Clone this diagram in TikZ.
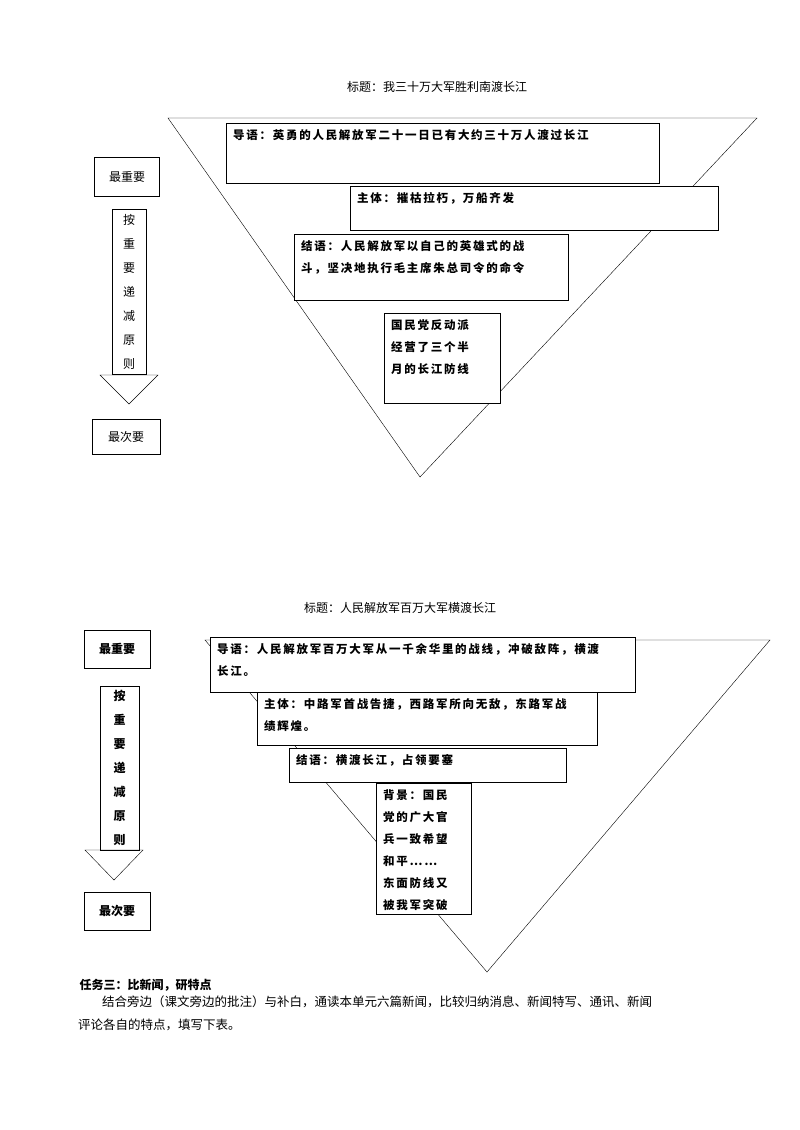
\documentclass[tikz,border=0pt]{standalone}
\usepackage{fontspec}
\newfontfamily\cjk{Noto Sans CJK SC}
\newfontfamily\cjkw[LetterSpace=15]{Noto Sans CJK SC}
\usetikzlibrary{positioning}
\newcommand{\boxtext}[3]{\parbox[t][#2][t]{#1}{#3}}
\tikzset{
  txtbox/.style={draw, fill=white, anchor=north west, align=left, inner xsep=7pt, inner ysep=6pt, font=\cjkw\fontsize{11.5}{22}\selectfont\bfseries},
  sidebox/.style={draw, fill=white, font=\cjk\fontsize{12}{14}\selectfont, inner sep=4pt},
  vtext/.style={draw, align=center, font=\cjk\fontsize{12}{24}\selectfont, inner sep=3pt}
}
\begin{document}
\begin{tikzpicture}[x=1pt,y=-1pt]
\useasboundingbox (0,0) rectangle (800,1130);
% upper chart
\node[font=\cjk\fontsize{12}{14}\selectfont] (titleA) at (437,87) {标题：我三十万大军胜利南渡长江};
\draw (168,118) -- (757,118) -- (420,477) -- cycle;
\node[txtbox] (leadA) at (226,123) {\boxtext{419pt}{48pt}{导语：英勇的人民解放军二十一日已有大约三十万人渡过长江}};
\node[txtbox] (bodyA) at (350,186) {\boxtext{354pt}{32pt}{主体：摧枯拉朽，万船齐发}};
\node[txtbox] (endA) at (294,234) {\boxtext{260pt}{54pt}{结语：人民解放军以自己的英雄式的战\\斗，坚决地执行毛主席朱总司令的命令}};
\node[txtbox] (bgA) at (384,313) {\boxtext{102pt}{78pt}{国民党反动派\\经营了三个半\\月的长江防线}};
\node[sidebox, minimum width=65, minimum height=39] (topA) at (127,177) {最重要};
\node[vtext, minimum width=34, minimum height=165] (arrA) at (129,292) {按\\重\\要\\递\\减\\原\\则};
\draw (100,375) -- (158,375) -- (129,404) -- cycle;
\node[sidebox, minimum width=68, minimum height=35] (lowA) at (126,437) {最次要};
% lower chart
\node[font=\cjk\fontsize{12}{14}\selectfont] (titleB) at (400,608) {标题：人民解放军百万大军横渡长江};
\draw (205,640) -- (770,640) -- (487,972) -- cycle;
\node[txtbox] (leadB) at (210,637) {\boxtext{411pt}{43pt}{导语：人民解放军百万大军从一千余华里的战线，冲破敌阵，横渡\\长江。}};
\node[txtbox] (bodyB) at (257,692) {\boxtext{326pt}{41pt}{主体：中路军首战告捷，西路军所向无敌，东路军战\\绩辉煌。}};
\node[txtbox] (endB) at (289,748) {\boxtext{263pt}{22pt}{结语：横渡长江，占领要塞}};
\node[txtbox] (bgB) at (376,783) {\boxtext{81pt}{119pt}{背景：国民\\党的广大官\\兵一致希望\\和平……\\东面防线又\\被我军突破}};
\node[sidebox, minimum width=66, minimum height=38, font=\cjk\fontsize{12}{14}\selectfont\bfseries] (topB) at (117,649) {最重要};
\node[vtext, minimum width=39, minimum height=164, font=\cjk\fontsize{12}{24}\selectfont\bfseries] (arrB) at (119.5,768) {按\\重\\要\\递\\减\\原\\则};
\draw (85,850) -- (143,850) -- (114,880) -- cycle;
\node[sidebox, minimum width=66, minimum height=38, font=\cjk\fontsize{12}{14}\selectfont\bfseries] (lowB) at (117,911) {最次要};
% task text
\node[anchor=west, font=\cjk\fontsize{12}{14}\selectfont\bfseries] (task) at (76,985) {任务三：比新闻，研特点};
\node[anchor=north west, align=left, text width=650, inner sep=0pt, font=\cjk\fontsize{12.5}{23}\selectfont] (para) at (78,996) {\hspace*{24pt}结合旁边（课文旁边的批注）与补白，通读本单元六篇新闻，比较归纳消息、新闻特写、通讯、新闻\\评论各自的特点，填写下表。};
\end{tikzpicture}
\end{document}
